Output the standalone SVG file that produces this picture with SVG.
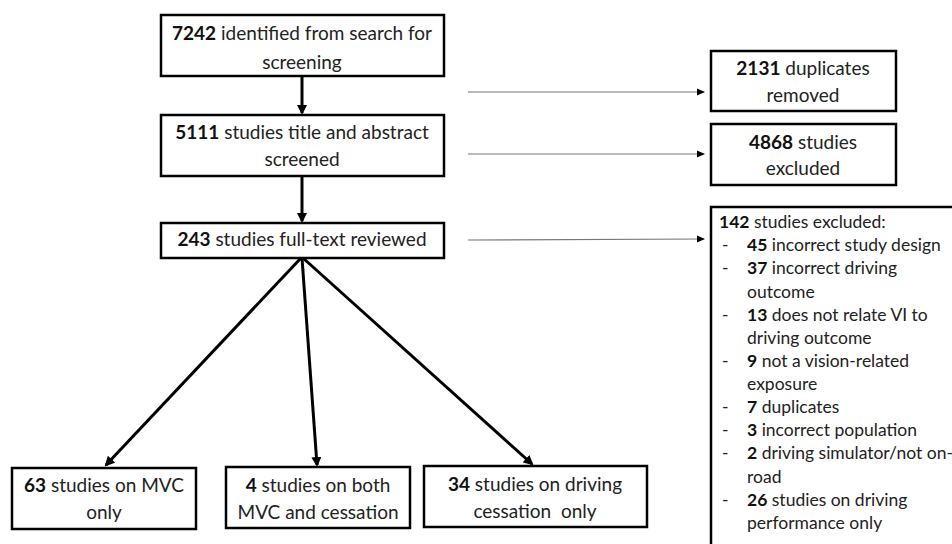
<svg xmlns="http://www.w3.org/2000/svg" width="952" height="544" viewBox="0 0 952 544">
<style>
.box{fill:#fff;stroke:#000;stroke-width:2.5}
text{font-family:Lato,"Liberation Sans",sans-serif;font-size:19px;fill:#222}
.l text{font-size:17.5px}
.c{text-anchor:middle}
.b{font-weight:bold;fill:#111}
.pre{white-space:pre}
.thick{stroke:#000;stroke-width:3;fill:none}
.thin{stroke:#777;stroke-width:1.2;fill:none}
</style>
<defs>
<marker id="ah" markerWidth="10" markerHeight="10" refX="8" refY="5" orient="auto" markerUnits="userSpaceOnUse">
<path d="M0,0 L10,5 L0,10 z" fill="#000"/>
</marker>
<marker id="ahs" markerWidth="8" markerHeight="8" refX="7" refY="4" orient="auto" markerUnits="userSpaceOnUse">
<path d="M0,0.5 L8,4 L0,7.5 z" fill="#000"/>
</marker>
</defs>
<rect width="952" height="544" fill="#fff"/>
<g id="connectors">
<line class="thick" x1="302" y1="76" x2="302" y2="113" marker-end="url(#ah)"/>
<line class="thick" x1="302" y1="176" x2="302" y2="221" marker-end="url(#ah)"/>
<line class="thick" x1="301" y1="258" x2="106" y2="465" marker-end="url(#ah)"/>
<line class="thick" x1="302" y1="258" x2="317" y2="465" marker-end="url(#ah)"/>
<line class="thick" x1="303" y1="258" x2="532" y2="464" marker-end="url(#ah)"/>
<line class="thin" x1="468" y1="92" x2="704" y2="92" marker-end="url(#ahs)"/>
<line class="thin" x1="468" y1="154" x2="704" y2="154" marker-end="url(#ahs)"/>
<line class="thin" x1="468" y1="240" x2="704" y2="239" marker-end="url(#ahs)"/>
</g>
<g id="n7242">
<rect class="box" x="161" y="15" width="283" height="61"/>
<text class="c" x="302" y="40"><tspan class="b">7242</tspan> identified from search for</text>
<text class="c" x="302" y="69">screening</text>
</g>
<g id="n5111">
<rect class="box" x="161" y="115" width="283" height="61"/>
<text class="c" x="302" y="139"><tspan class="b">5111</tspan> studies title and abstract</text>
<text class="c" x="302" y="166">screened</text>
</g>
<g id="n243">
<rect class="box" x="161" y="223" width="283" height="35"/>
<text class="c" x="302" y="246"><tspan class="b">243</tspan> studies full-text reviewed</text>
</g>
<g id="n2131">
<rect class="box" x="711" y="51" width="185" height="60"/>
<text class="c" x="803" y="75"><tspan class="b">2131</tspan> duplicates</text>
<text class="c" x="803" y="102">removed</text>
</g>
<g id="n4868">
<rect class="box" x="711" y="124" width="185" height="61"/>
<text class="c" x="803" y="149"><tspan class="b">4868</tspan> studies</text>
<text class="c" x="803" y="175">excluded</text>
</g>
<g id="n142" class="l">
<rect class="box" x="711" y="207" width="260" height="360"/>
<text x="719" y="228"><tspan class="b">142</tspan> studies excluded:</text>
<text x="722" y="251">-</text><text x="747" y="251"><tspan class="b">45</tspan> incorrect study design</text>
<text x="722" y="274">-</text><text x="747" y="274"><tspan class="b">37</tspan> incorrect driving</text>
<text x="747" y="298">outcome</text>
<text x="722" y="321">-</text><text x="747" y="321"><tspan class="b">13</tspan> does not relate VI to</text>
<text x="747" y="344">driving outcome</text>
<text x="722" y="367">-</text><text x="747" y="367"><tspan class="b">9</tspan> not a vision-related</text>
<text x="747" y="390">exposure</text>
<text x="722" y="413">-</text><text x="747" y="413"><tspan class="b">7</tspan> duplicates</text>
<text x="722" y="436">-</text><text x="747" y="436"><tspan class="b">3</tspan> incorrect population</text>
<text x="722" y="459">-</text><text x="747" y="459"><tspan class="b">2</tspan> driving simulator/not on-</text>
<text x="747" y="483">road</text>
<text x="722" y="506">-</text><text x="747" y="506"><tspan class="b">26</tspan> studies on driving</text>
<text x="747" y="529">performance only</text>
</g>
<g id="n63">
<rect class="box" x="12" y="468" width="184" height="61"/>
<text class="c" x="104" y="492"><tspan class="b">63</tspan> studies on MVC</text>
<text class="c" x="104" y="519">only</text>
</g>
<g id="n4">
<rect class="box" x="226" y="467" width="184" height="61"/>
<text class="c" x="318" y="492"><tspan class="b">4</tspan> studies on both</text>
<text class="c" x="318" y="519">MVC and cessation</text>
</g>
<g id="n34">
<rect class="box" x="424" y="466" width="223" height="61"/>
<text class="c" x="535" y="491"><tspan class="b">34</tspan> studies on driving</text>
<text class="c pre" x="535" y="518">cessation  only</text>
</g>
</svg>
